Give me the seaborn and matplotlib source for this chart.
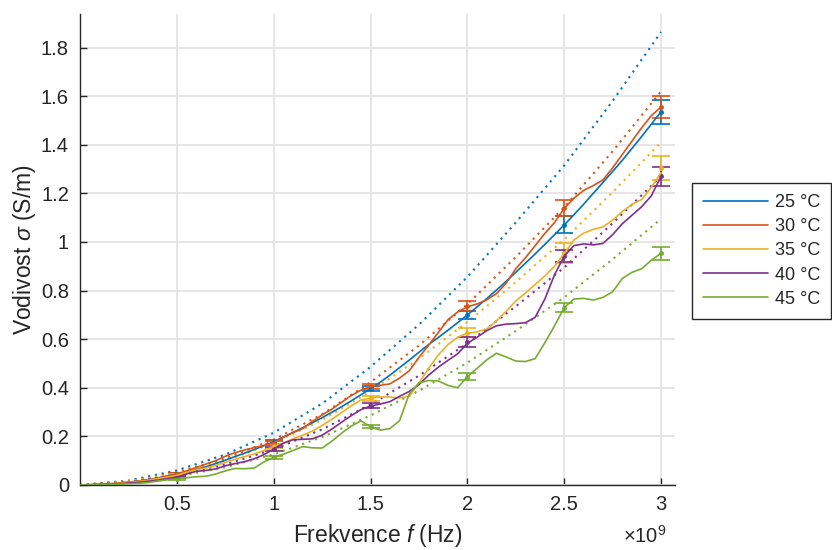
import numpy as np
import pandas as pd
import matplotlib
matplotlib.use("Agg")
import matplotlib.pyplot as plt
import seaborn as sns

# frequency grid of the measured curves (GHz)
freq = np.round(np.arange(0, 3.0001, 0.05), 2)

temps = ["25 °C", "30 °C", "35 °C", "40 °C", "45 °C"]

sigma_25 = [0, 0.001, 0.002, 0.004, 0.007, 0.011, 0.016, 0.022, 0.029, 0.037,
            0.045, 0.054, 0.064, 0.075, 0.088, 0.102, 0.117, 0.131, 0.146, 0.162,
            0.178, 0.198, 0.216, 0.236, 0.256, 0.277, 0.299, 0.322, 0.346, 0.371,
            0.396, 0.423, 0.452, 0.483, 0.514, 0.546, 0.578, 0.607, 0.637, 0.668,
            0.70, 0.733, 0.767, 0.802, 0.838, 0.875, 0.913, 0.951, 0.99, 1.03,
            1.07, 1.112, 1.155, 1.2, 1.245, 1.29, 1.336, 1.385, 1.434, 1.485, 1.536]
sigma_30 = [0, 0.001, 0.003, 0.005, 0.008, 0.012, 0.016, 0.021, 0.028, 0.036,
            0.045, 0.058, 0.072, 0.086, 0.1, 0.118, 0.133, 0.144, 0.154, 0.163,
            0.174, 0.196, 0.216, 0.232, 0.262, 0.288, 0.312, 0.34, 0.368, 0.39,
            0.405, 0.41, 0.416, 0.44, 0.47, 0.525, 0.575, 0.628, 0.68, 0.712,
            0.733, 0.745, 0.762, 0.787, 0.83, 0.89, 0.935, 0.985, 1.035, 1.08,
            1.138, 1.18, 1.212, 1.232, 1.255, 1.305, 1.36, 1.415, 1.47, 1.52, 1.555]
sigma_35 = [0, 0.001, 0.002, 0.004, 0.007, 0.01, 0.014, 0.019, 0.026, 0.032,
            0.04, 0.052, 0.063, 0.07, 0.08, 0.093, 0.106, 0.117, 0.128, 0.142,
            0.158, 0.172, 0.19, 0.205, 0.222, 0.245, 0.27, 0.298, 0.325, 0.35,
            0.357, 0.362, 0.362, 0.358, 0.365, 0.42, 0.48, 0.535, 0.578, 0.608,
            0.625, 0.63, 0.642, 0.675, 0.715, 0.757, 0.79, 0.825, 0.86, 0.9,
            0.952, 1.008, 1.036, 1.052, 1.062, 1.09, 1.125, 1.155, 1.175, 1.225, 1.285]
sigma_40 = [0, 0.001, 0.002, 0.003, 0.005, 0.008, 0.011, 0.015, 0.02, 0.026,
            0.032, 0.045, 0.056, 0.06, 0.066, 0.079, 0.088, 0.096, 0.108, 0.125,
            0.148, 0.172, 0.186, 0.188, 0.19, 0.205, 0.23, 0.258, 0.285, 0.31,
            0.325, 0.333, 0.343, 0.365, 0.385, 0.413, 0.452, 0.485, 0.513, 0.54,
            0.583, 0.608, 0.635, 0.655, 0.662, 0.664, 0.668, 0.69, 0.765, 0.865,
            0.942, 0.985, 0.992, 0.988, 0.994, 1.03, 1.075, 1.11, 1.145, 1.19, 1.27]
sigma_45 = [0, 0.0, 0.001, 0.002, 0.003, 0.005, 0.007, 0.01, 0.016, 0.021,
            0.025, 0.03, 0.034, 0.036, 0.045, 0.058, 0.068, 0.067, 0.07, 0.095,
            0.114, 0.127, 0.142, 0.158, 0.153, 0.152, 0.18, 0.213, 0.242, 0.264,
            0.24, 0.226, 0.232, 0.265, 0.375, 0.42, 0.43, 0.428, 0.41, 0.4,
            0.446, 0.48, 0.515, 0.542, 0.527, 0.51, 0.508, 0.52, 0.585, 0.655,
            0.73, 0.765, 0.768, 0.761, 0.772, 0.795, 0.85, 0.875, 0.89, 0.925, 0.953]

# model curves (dotted)
model_freq = [0, 0.25, 0.5, 0.75, 1.0, 1.25, 1.5, 1.75, 2.0, 2.25, 2.5, 2.75, 3.0]
model_25 = [0, 0.018, 0.06, 0.125, 0.215, 0.335, 0.486, 0.66, 0.856, 1.08, 1.315, 1.58, 1.864]
model_30 = [0, 0.016, 0.052, 0.109, 0.187, 0.291, 0.423, 0.574, 0.744, 0.938, 1.143, 1.373, 1.62]
model_35 = [0, 0.015, 0.048, 0.1, 0.172, 0.267, 0.385, 0.52, 0.67, 0.835, 1.01, 1.205, 1.41]
model_40 = [0, 0.012, 0.041, 0.085, 0.146, 0.229, 0.331, 0.45, 0.583, 0.735, 0.895, 1.077, 1.27]
model_45 = [0, 0.011, 0.035, 0.073, 0.126, 0.197, 0.286, 0.388, 0.503, 0.634, 0.772, 0.929, 1.095]

# error bars
err_freq = [0.5, 1.0, 1.5, 2.0, 2.5, 3.0]
mean_25 = [0.045, 0.178, 0.396, 0.70, 1.07, 1.536]
mean_30 = [0.045, 0.172, 0.405, 0.737, 1.14, 1.557]
mean_35 = [0.04, 0.16, 0.357, 0.626, 0.955, 1.305]
mean_40 = [0.032, 0.148, 0.326, 0.588, 0.942, 1.27]
mean_45 = [0.025, 0.114, 0.24, 0.446, 0.73, 0.953]
err_25 = [0.005, 0.008, 0.01, 0.018, 0.035, 0.05]
err_30 = [0.005, 0.008, 0.012, 0.02, 0.033, 0.045]
err_35 = [0.005, 0.007, 0.01, 0.018, 0.04, 0.05]
err_40 = [0.004, 0.007, 0.01, 0.02, 0.025, 0.04]
err_45 = [0.003, 0.005, 0.007, 0.014, 0.02, 0.027]

colors = ["#0072BD", "#D95319", "#EDB120", "#7E2F8E", "#77AC30"]

measured = [sigma_25, sigma_30, sigma_35, sigma_40, sigma_45]
models = [model_25, model_30, model_35, model_40, model_45]
means = [mean_25, mean_30, mean_35, mean_40, mean_45]
errs = [err_25, err_30, err_35, err_40, err_45]

df = pd.concat([pd.DataFrame({"f": freq, "sigma": s, "T": t})
                for s, t in zip(measured, temps)], ignore_index=True)
df_model = pd.concat([pd.DataFrame({"f": model_freq, "sigma": s, "T": t})
                      for s, t in zip(models, temps)], ignore_index=True)

sns.set_style("ticks")
plt.rcParams["font.family"] = ["Liberation Sans", "DejaVu Sans"]
plt.rcParams["mathtext.fontset"] = "custom"
plt.rcParams["mathtext.rm"] = "Liberation Sans"
plt.rcParams["mathtext.it"] = "Liberation Sans:italic"

fig = plt.figure(figsize=(8.32, 5.5), dpi=100)
ax = fig.add_axes([80 / 832, 1 - 485 / 550, 595 / 832, 471 / 550])

palette = dict(zip(temps, colors))

for m, e, c in zip(means, errs, colors):
    ax.errorbar(err_freq, m, yerr=e, fmt=".", color=c, markersize=5,
                elinewidth=1.2, capsize=6.5, capthick=1.2, zorder=3)

sns.lineplot(data=df_model, x="f", y="sigma", hue="T", palette=palette,
             linestyle=(0, (1, 2.3)), linewidth=1.5, legend=False, sort=False,
             estimator=None, ax=ax, zorder=2)
sns.lineplot(data=df, x="f", y="sigma", hue="T", palette=palette,
             linewidth=1.2, sort=False, estimator=None, ax=ax, zorder=4)

ax.set_xlim(0, 3.072)
ax.set_ylim(0, 1.938)
ax.set_xticks(err_freq)
ax.set_xticklabels(["%g" % v for v in err_freq])
yt = np.round(np.arange(0, 1.81, 0.2), 1)
ax.set_yticks(yt)
ax.set_yticklabels(["%g" % v for v in yt])
ax.grid(True, color="#e4e4e4", linewidth=1.3)
ax.set_axisbelow(True)
sns.despine(ax=ax)
for sp in ["left", "bottom"]:
    ax.spines[sp].set_color("#262626")
    ax.spines[sp].set_linewidth(1.0)
ax.tick_params(direction="in", length=5, width=1.0, color="#262626",
               labelcolor="#262626", labelsize=14.5)
ax.tick_params(axis="y", pad=8)
ax.tick_params(axis="x", pad=7)

ax.set_xlabel(r"Frekvence $f$ (Hz)", fontsize=16.5, color="#262626", labelpad=6)
ax.set_ylabel(r"Vodivost $\sigma$ (S/m)", fontsize=16.5, color="#262626", labelpad=2)
fig.text(667 / 832, 1 - 536 / 550, r"$\times10^{9}$", ha="right", va="center",
         fontsize=14.5, color="#262626")

handles, labels = ax.get_legend_handles_labels()
ax.legend(handles, labels, loc="upper left",
          bbox_to_anchor=(692 / 832, 1 - 183 / 550),
          bbox_transform=fig.transFigure, borderaxespad=0,
          fontsize=13, frameon=True, fancybox=False, edgecolor="#262626",
          framealpha=1, handlelength=3.6, handletextpad=0.4,
          labelspacing=0.4, borderpad=0.6)
ax.get_legend().get_frame().set_linewidth(1.0)

fig.savefig("out.png", dpi=100)
